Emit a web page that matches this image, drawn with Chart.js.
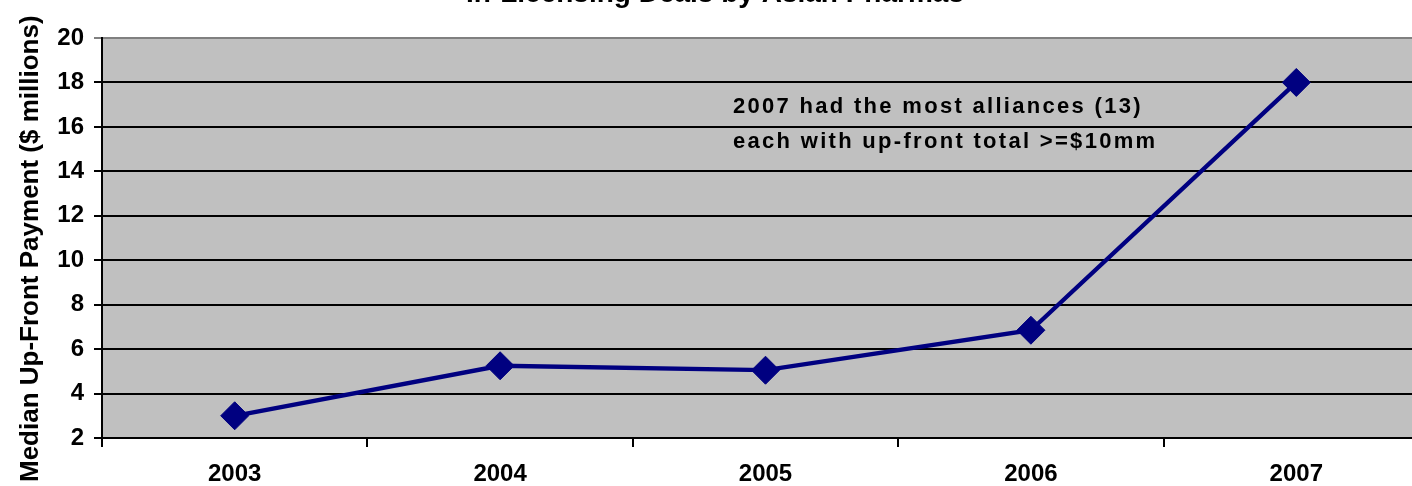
<!DOCTYPE html>
<html>
<head>
<meta charset="utf-8">
<script src="https://cdn.jsdelivr.net/npm/chart.js@4"></script>
<style>
  html, body { margin: 0; padding: 0; background: #fff; overflow: hidden; }
  #chart { position: absolute; left: 0; top: -20px; }
</style>
</head>
<body>
<canvas id="chart" width="1444" height="506"></canvas>
<script>
const years = ['2003', '2004', '2005', '2006', '2007']
const medianPayment = [3.0, 5.25, 5.05, 6.85, 18.0]
const titleLines = ['Median Up-Front Payment for', 'In-Licensing Deals by Asian Pharmas']
const yTitle = 'Median Up-Front Payment ($ millions)'
const noteLines = ['2007 had the most alliances (13)', 'each with up-front total >=$10mm']

const FONT = '"Liberation Sans", Arial, sans-serif'

// titulo, eixo y e nota desenhados a mao, como no original
const textPlugin = {
  id: 'texts',
  afterDraw(chart) {
    const ctx = chart.ctx
    ctx.save()
    ctx.fillStyle = '#000'
    ctx.textAlign = 'center'
    ctx.textBaseline = 'alphabetic'
    ctx.font = 'bold 28px ' + FONT
    ctx.fillText(titleLines[1], 715, 22)
    ctx.fillText(titleLines[0], 715, -12)

    ctx.save()
    ctx.translate(38, 502)
    ctx.rotate(-Math.PI / 2)
    ctx.textAlign = 'left'
    ctx.font = 'bold 26px ' + FONT
    ctx.fillText(yTitle, 0, 0)
    ctx.restore()

    ctx.textAlign = 'left'
    ctx.font = 'bold 22px ' + FONT
    ctx.letterSpacing = '2.3px'
    ctx.fillText(noteLines[0], 733, 133)
    ctx.fillText(noteLines[1], 733, 168)
    ctx.restore()
  }
}

new Chart(document.getElementById('chart'), {
  type: 'line',
  data: {
    labels: years,
    datasets: [{
      data: medianPayment,
      borderColor: '#000080',
      backgroundColor: '#000080',
      borderWidth: 4.3,
      pointStyle: 'rectRot',
      pointRadius: 14,
      pointHoverRadius: 14,
      pointBorderWidth: 1,
      tension: 0
    }]
  },
  options: {
    responsive: false,
    animation: false,
    layout: { padding: { top: 58, right: 1, left: 0, bottom: 0 } },
    plugins: {
      legend: { display: false },
      tooltip: { enabled: false }
    },
    scales: {
      x: {
        offset: true,
        afterFit(scale) { scale.height = 48 },
        grid: {
          offset: true,
          drawOnChartArea: false,
          color: '#000',
          tickLength: 9,
          lineWidth: 2
        },
        border: { color: '#000', width: 2 },
        ticks: {
          color: '#000',
          padding: 13,
          font: { family: FONT, size: 24, weight: 'bold' }
        }
      },
      y: {
        min: 2,
        max: 20,
        afterFit(scale) { scale.width = 102 },
        grid: {
          color: ctx => (ctx.tick && ctx.tick.value === 20) ? '#808080' : '#000',
          lineWidth: 2,
          tickLength: 8
        },
        border: { color: '#000', width: 2 },
        ticks: {
          stepSize: 2,
          color: '#000',
          padding: 10,
          font: { family: FONT, size: 24, weight: 'bold' }
        }
      }
    }
  },
  plugins: [{
    id: 'plotBg',
    beforeDraw(chart) {
      const a = chart.chartArea
      chart.ctx.save()
      chart.ctx.fillStyle = '#C0C0C0'
      chart.ctx.fillRect(a.left, a.top, a.right - a.left, a.bottom - a.top)
      chart.ctx.restore()
    }
  }, textPlugin]
})
</script>
</body>
</html>
